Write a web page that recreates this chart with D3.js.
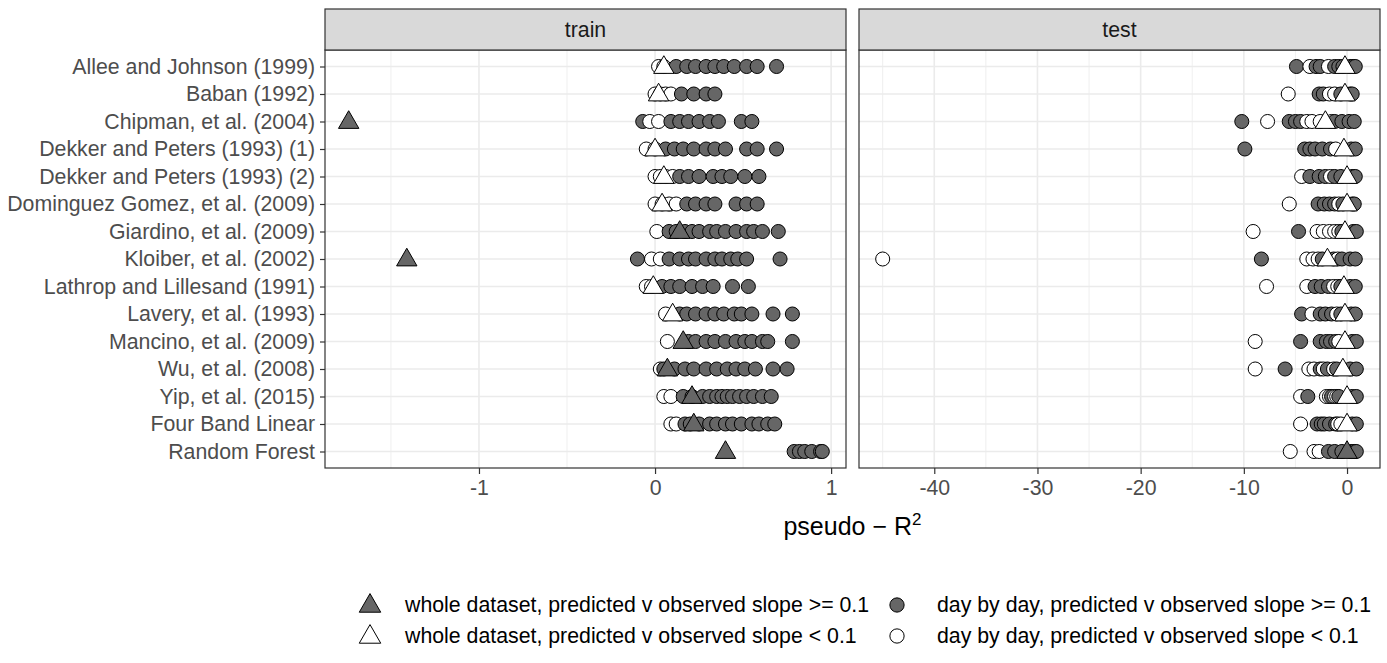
<!DOCTYPE html>
<html>
<head>
<meta charset="utf-8">
<script src="https://cdn.jsdelivr.net/npm/d3@7"></script>
<style>
  html, body { margin: 0; padding: 0; background: #fff; }
  svg { display: block; font-family: "Liberation Sans", Arial, sans-serif; }
</style>
</head>
<body>
<svg id="chart" width="1387" height="663"></svg>
<script>
// Model names, top to bottom
const categories = [
  "Allee and Johnson (1999)", "Baban (1992)", "Chipman, et al. (2004)",
  "Dekker and Peters (1993) (1)", "Dekker and Peters (1993) (2)",
  "Dominguez Gomez, et al. (2009)", "Giardino, et al. (2009)", "Kloiber, et al. (2002)",
  "Lathrop and Lillesand (1991)", "Lavery, et al. (1993)", "Mancino, et al. (2009)",
  "Wu, et al. (2008)", "Yip, et al. (2015)", "Four Band Linear", "Random Forest"
];
const panels = ["train", "test"];

// Day-by-day fits, slope >= 0.1 (filled circles) — train
const trainDayHigh = [
  [0.12, 0.18, 0.23, 0.29, 0.34, 0.39, 0.45, 0.52, 0.58, 0.69],
  [0.15, 0.22, 0.29, 0.34],
  [-0.07, 0.09, 0.14, 0.19, 0.25, 0.31, 0.36, 0.49, 0.55],
  [0.06, 0.11, 0.16, 0.22, 0.29, 0.34, 0.40, 0.52, 0.58, 0.69],
  [0.14, 0.19, 0.25, 0.33, 0.38, 0.43, 0.51, 0.59],
  [0.18, 0.23, 0.29, 0.34, 0.46, 0.52, 0.58],
  [0.08, 0.12, 0.17, 0.21, 0.25, 0.31, 0.35, 0.40, 0.46, 0.52, 0.56, 0.61, 0.70],
  [-0.10, 0.08, 0.14, 0.19, 0.23, 0.29, 0.34, 0.38, 0.43, 0.47, 0.52, 0.71],
  [0.04, 0.09, 0.14, 0.21, 0.27, 0.33, 0.44, 0.53],
  [0.14, 0.18, 0.23, 0.29, 0.34, 0.39, 0.45, 0.49, 0.55, 0.67, 0.78],
  [0.19, 0.23, 0.29, 0.34, 0.40, 0.46, 0.51, 0.55, 0.61, 0.64, 0.78],
  [0.05, 0.11, 0.17, 0.22, 0.29, 0.35, 0.41, 0.46, 0.51, 0.57, 0.67, 0.75],
  [0.16, 0.21, 0.27, 0.31, 0.35, 0.38, 0.41, 0.44, 0.48, 0.52, 0.56, 0.61, 0.66],
  [0.17, 0.20, 0.25, 0.31, 0.35, 0.40, 0.44, 0.49, 0.55, 0.59, 0.64, 0.68],
  [0.79, 0.82, 0.85, 0.89, 0.94, 0.95]
];
// Day-by-day fits, slope < 0.1 (open circles) — train
const trainDayLow = [
  [0.02, 0.05],
  [0.0, 0.03, 0.06, 0.09],
  [-0.03, 0.02],
  [-0.05, 0.0],
  [0.0, 0.03, 0.06, 0.10],
  [0.0, 0.04, 0.08, 0.12],
  [0.01],
  [-0.02, 0.03],
  [-0.05, -0.02],
  [0.06],
  [0.07],
  [0.03],
  [0.05, 0.09],
  [0.09, 0.12],
  []
];
// Whole-dataset fit per model, and whether its slope is >= 0.1 — train
const trainWhole = [0.05, 0.02, -1.74, 0.0, 0.05, 0.04, 0.14, -1.41, -0.01, 0.10, 0.16, 0.07, 0.21, 0.22, 0.40];
const trainWholeHigh = [false, false, true, false, false, false, true, true, false, false, true, true, true, true, true];

// Day-by-day fits, slope >= 0.1 — test
const testDayHigh = [
  [-4.9, -3.0, -2.6, -1.2, -0.8, -0.4, 0.3, 0.6, 0.8],
  [-2.7, -2.3, -0.6, 0.3, 0.5],
  [-10.2, -5.6, -5.0, -4.5, -1.2, -0.5, 0.2, 0.7],
  [-9.9, -4.1, -3.6, -3.1, -2.4, -1.6, 0.4, 0.8],
  [-3.6, -2.7, -2.1, -1.2, -0.6, 0.5, 0.8],
  [-2.8, -2.2, -1.7, -1.2, -0.4, 0.5, 0.7],
  [-4.7, -0.5, 0.6, 0.9],
  [-8.3, -2.4, -1.3, -0.5, 0.3, 0.8],
  [-3.1, -2.5, -1.8, -0.6, 0.3, 0.8],
  [-4.4, -2.6, -2.1, -1.5, -0.6, 0.4, 0.8],
  [-4.5, -2.6, -2.0, -1.6, -1.1, 0.5, 0.9],
  [-6.0, -2.6, -1.9, -1.0, 0.3, 0.9],
  [-3.8, -1.5, -0.8, 0.5, 0.9],
  [-2.9, -2.5, -2.2, -1.7, -1.1, 0.5, 0.9],
  [-1.8, -1.2, -0.5, 0.4, 0.7, 0.9]
];
// Day-by-day fits, slope < 0.1 — test
const testDayLow = [
  [-3.6, -1.8],
  [-5.7, -1.7, -1.2],
  [-7.7, -3.9, -3.4, -2.6, -1.5],
  [-1.1],
  [-4.4, -1.6],
  [-5.6, -0.8],
  [-9.1, -2.9, -2.3, -1.7, -1.2, -0.8],
  [-45.0, -3.9, -3.3, -2.8, -0.9],
  [-7.8, -3.9, -1.3, -0.9],
  [-3.4, -1.0],
  [-8.9, -0.8],
  [-8.9, -3.7, -3.2, -2.3, -1.3],
  [-4.5, -2.0, -1.7, -1.2, -1.0],
  [-4.5, -0.9, -0.6],
  [-5.5, -3.2, -2.7]
];
const testWhole = [-0.2, -0.2, -2.1, -0.3, 0.0, 0.0, -0.2, -1.9, -0.3, -0.2, -0.2, -0.4, 0.0, 0.0, 0.0];
const testWholeHigh = [false, false, false, false, false, false, false, false, false, false, false, false, false, false, true];

const trainTicks = [-1, 0, 1];
const trainMinor = [-1.5, -0.5, 0.5];
const testTicks = [-40, -30, -20, -10, 0];
const testMinor = [-45, -35, -25, -15, -5];

const legendLabels = [
  "whole dataset, predicted v observed slope >= 0.1",
  "whole dataset, predicted v observed slope < 0.1",
  "day by day, predicted v observed slope >= 0.1",
  "day by day, predicted v observed slope < 0.1"
];

// ---- layout ----
const FILL_HIGH = "#666666", FILL_LOW = "#ffffff", STROKE = "#000000";
const TEXT_SIZE = 21.3;
const panelTop = 50, panelBottom = 468, stripTop = 9;
const panelBoxes = [{ x0: 325, x1: 846 }, { x0: 859, x1: 1380 }];

const svg = d3.select("#chart");

// ggplot-style 5% expansion of the data extent
function expanded(values) {
  const [lo, hi] = d3.extent(values);
  const pad = (hi - lo) * 0.05;
  return [lo - pad, hi + pad];
}

const trainAll = [].concat(...trainDayHigh, ...trainDayLow, trainWhole);
const testAll = [].concat(...testDayHigh, ...testDayLow, testWhole);

const xScales = [
  d3.scaleLinear().domain(expanded(trainAll)).range([panelBoxes[0].x0, panelBoxes[0].x1]),
  d3.scaleLinear().domain(expanded(testAll)).range([panelBoxes[1].x0, panelBoxes[1].x1])
];
const y = d3.scalePoint().domain(categories).range([panelTop, panelBottom]).padding(0.6);

const circleSym = d3.symbol().type(d3.symbolCircle).size(155);
const triSym = d3.symbol().type(d3.symbolTriangle).size(180);

const panelData = [
  { high: trainDayHigh, low: trainDayLow, whole: trainWhole, wholeHigh: trainWholeHigh, ticks: trainTicks, minor: trainMinor },
  { high: testDayHigh, low: testDayLow, whole: testWhole, wholeHigh: testWholeHigh, ticks: testTicks, minor: testMinor }
];

panelData.forEach((pd, i) => {
  const x = xScales[i];
  const box = panelBoxes[i];
  const g = svg.append("g");

  // grid
  g.selectAll(".minor").data(pd.minor).join("line")
    .attr("x1", d => x(d)).attr("x2", d => x(d))
    .attr("y1", panelTop).attr("y2", panelBottom)
    .attr("stroke", "#EBEBEB").attr("stroke-width", 0.8);
  g.selectAll(".major").data(pd.ticks).join("line")
    .attr("x1", d => x(d)).attr("x2", d => x(d))
    .attr("y1", panelTop).attr("y2", panelBottom)
    .attr("stroke", "#EBEBEB").attr("stroke-width", 1.6);
  g.selectAll(".hgrid").data(categories).join("line")
    .attr("x1", box.x0).attr("x2", box.x1)
    .attr("y1", d => y(d)).attr("y2", d => y(d))
    .attr("stroke", "#EBEBEB").attr("stroke-width", 1.6);

  // day-by-day points, drawn left to right so later ones overlap earlier ones
  const pts = [];
  categories.forEach((c, k) => {
    pd.high[k].forEach(v => pts.push({ c, v, hi: true }));
    pd.low[k].forEach(v => pts.push({ c, v, hi: false }));
  });
  pts.sort((a, b) => a.v - b.v);
  g.selectAll(".day").data(pts).join("path")
    .attr("d", circleSym)
    .attr("transform", d => `translate(${x(d.v)},${y(d.c)})`)
    .attr("fill", d => d.hi ? FILL_HIGH : FILL_LOW)
    .attr("stroke", STROKE).attr("stroke-width", 1);

  // whole-dataset triangles on top
  g.selectAll(".whole").data(categories).join("path")
    .attr("d", triSym)
    .attr("transform", (c, k) => `translate(${x(pd.whole[k])},${y(c) + 1})`)
    .attr("fill", (c, k) => pd.wholeHigh[k] ? FILL_HIGH : FILL_LOW)
    .attr("stroke", STROKE).attr("stroke-width", 1);

  // panel border
  g.append("rect")
    .attr("x", box.x0).attr("y", panelTop)
    .attr("width", box.x1 - box.x0).attr("height", panelBottom - panelTop)
    .attr("fill", "none").attr("stroke", "#333333").attr("stroke-width", 1.2);

  // strip
  g.append("rect")
    .attr("x", box.x0).attr("y", stripTop)
    .attr("width", box.x1 - box.x0).attr("height", panelTop - stripTop)
    .attr("fill", "#D9D9D9").attr("stroke", "#333333").attr("stroke-width", 1.2);
  g.append("text")
    .attr("x", (box.x0 + box.x1) / 2).attr("y", (stripTop + panelTop) / 2)
    .attr("dy", "0.35em").attr("text-anchor", "middle")
    .attr("font-size", TEXT_SIZE).attr("fill", "#1A1A1A")
    .text(panels[i]);

  // x axis
  const axis = d3.axisBottom(x).tickValues(pd.ticks).tickSize(6).tickPadding(6)
    .tickFormat(d => d3.format("d")(d).replace("\u2212", "-"));
  const ax = g.append("g").attr("transform", `translate(0,${panelBottom})`).call(axis);
  ax.select(".domain").remove();
  ax.selectAll(".tick line").attr("stroke", "#333333").attr("stroke-width", 1.2);
  ax.selectAll(".tick text").attr("font-size", TEXT_SIZE).attr("fill", "#4D4D4D")
    .attr("font-family", "Liberation Sans, Arial, sans-serif");
});

// y axis on the left panel
const yAxis = d3.axisLeft(y).tickSize(5).tickPadding(5);
const yg = svg.append("g").attr("transform", `translate(${panelBoxes[0].x0},0)`).call(yAxis);
yg.select(".domain").remove();
yg.selectAll(".tick line").attr("stroke", "#333333").attr("stroke-width", 1.2);
yg.selectAll(".tick text").attr("font-size", TEXT_SIZE).attr("fill", "#4D4D4D")
  .attr("font-family", "Liberation Sans, Arial, sans-serif");

// axis title: pseudo − R²
const title = svg.append("text")
  .attr("x", (panelBoxes[0].x0 + panelBoxes[1].x1) / 2).attr("y", 535)
  .attr("text-anchor", "middle").attr("font-size", 25).attr("fill", "#000");
title.append("tspan").text("pseudo \u2212 R");
title.append("tspan").attr("dy", -10).attr("font-size", 17).text("2");

// legend
const legendItems = [
  { label: legendLabels[0], shape: "tri", hi: true, x: 370, y: 605 },
  { label: legendLabels[1], shape: "tri", hi: false, x: 370, y: 636 },
  { label: legendLabels[2], shape: "circle", hi: true, x: 897, y: 605 },
  { label: legendLabels[3], shape: "circle", hi: false, x: 897, y: 636 }
];
const lg = svg.append("g");
const legTri = d3.symbol().type(d3.symbolTriangle).size(200);
const legCircle = d3.symbol().type(d3.symbolCircle).size(160);
legendItems.forEach(it => {
  lg.append("path")
    .attr("d", it.shape === "tri" ? legTri : legCircle)
    .attr("transform", `translate(${it.x},${it.y + (it.shape === "tri" ? 1 : 0)})`)
    .attr("fill", it.hi ? FILL_HIGH : FILL_LOW)
    .attr("stroke", STROKE).attr("stroke-width", 1);
  lg.append("text")
    .attr("x", it.x + (it.shape === "tri" ? 35 : 40)).attr("y", it.y)
    .attr("dy", "0.35em").attr("font-size", TEXT_SIZE).attr("fill", "#000")
    .text(it.label);
});
</script>
</body>
</html>
